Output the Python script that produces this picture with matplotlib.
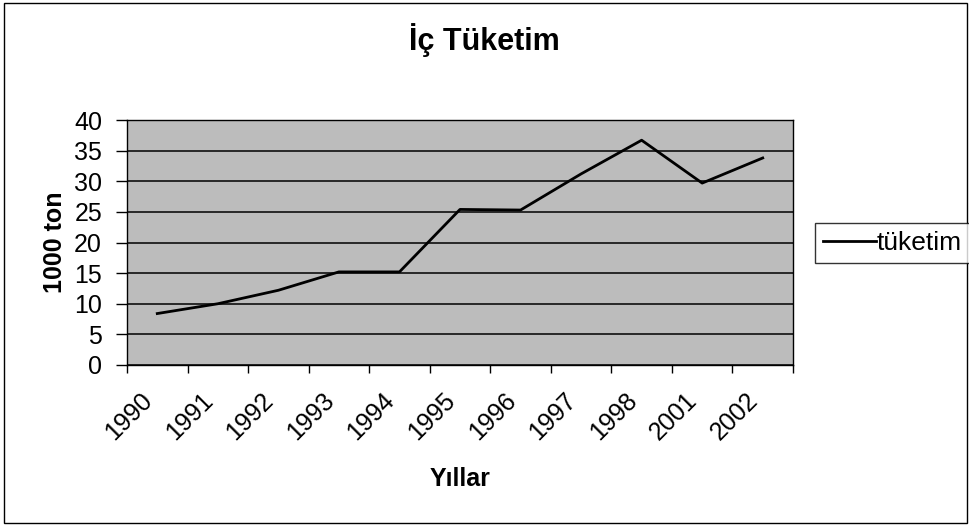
import numpy as np
import matplotlib
matplotlib.use("Agg")
import matplotlib.pyplot as plt
import matplotlib.transforms as mtransforms
from matplotlib.patches import Rectangle

plt.rcParams['font.family'] = ['Liberation Sans', 'DejaVu Sans']

# data
years = ['1990', '1991', '1992', '1993', '1994', '1995', '1996', '1997', '1998', '2001', '2002']
tuketim = [8.4, 10.0, 12.2, 15.2, 15.2, 25.4, 25.3, 31.2, 36.7, 29.7, 33.8]
yticks = [0, 5, 10, 15, 20, 25, 30, 35, 40]

fig = plt.figure(figsize=(9.69, 5.26), dpi=100)
ax = fig.add_axes([127 / 969, 1 - 365 / 526, 666 / 969, 245 / 526])

x = np.arange(len(years))
ax.set_facecolor('#bcbcbc')
ax.plot(x, tuketim, color='black', linewidth=2, label='tüketim', zorder=3)

# horizontal gridlines
ax.set_ylim(0, 40)
ax.set_yticks(yticks)
ax.yaxis.grid(True, color='black', linewidth=1.1)
ax.set_axisbelow(True)
ax.tick_params(axis='y', direction='out', length=8, width=1, pad=10, labelsize=18)

# categories: ticks at boundaries, labels at centres
ax.set_xlim(-0.5, len(years) - 0.5)
ax.set_xticks(np.arange(len(years) + 1) - 0.5)
ax.set_xticklabels([])
ax.set_xticks(x, minor=True)
ax.set_xticklabels(years, minor=True, rotation=45, ha='right', rotation_mode='anchor')
ax.tick_params(axis='x', which='major', direction='out', length=6, width=1)
ax.tick_params(axis='x', which='minor', length=0, pad=17, labelsize=18)
shift = mtransforms.ScaledTranslation(-17 / 100, 0, fig.dpi_scale_trans)
for lab in ax.get_xticklabels(minor=True):
    lab.set_transform(lab.get_transform() + shift)

for s in ax.spines.values():
    s.set_color('black')
    s.set_linewidth(1)

ax.set_ylabel('1000 ton', fontsize=18, fontweight='bold', labelpad=5)
ax.set_xlabel('Yıllar', fontsize=18, fontweight='bold', labelpad=16)
fig.text(0.5, 1 - 40 / 526, 'İç Tüketim', ha='center', va='center',
         fontsize=22, fontweight='bold')

leg = fig.legend(loc='center left', bbox_to_anchor=(815 / 969, 1 - 243 / 526),
                 fontsize=19, frameon=True, fancybox=False, handlelength=2.0,
                 handletextpad=0.05, borderpad=0.3, borderaxespad=0)
leg.get_frame().set_edgecolor('black')
leg.get_frame().set_linewidth(1)

# outer chart border
fig.patches.append(Rectangle((0.004, 0.005), 0.994, 0.99, transform=fig.transFigure,
                             fill=False, edgecolor='black', linewidth=1))

fig.savefig('out.png', dpi=100)
